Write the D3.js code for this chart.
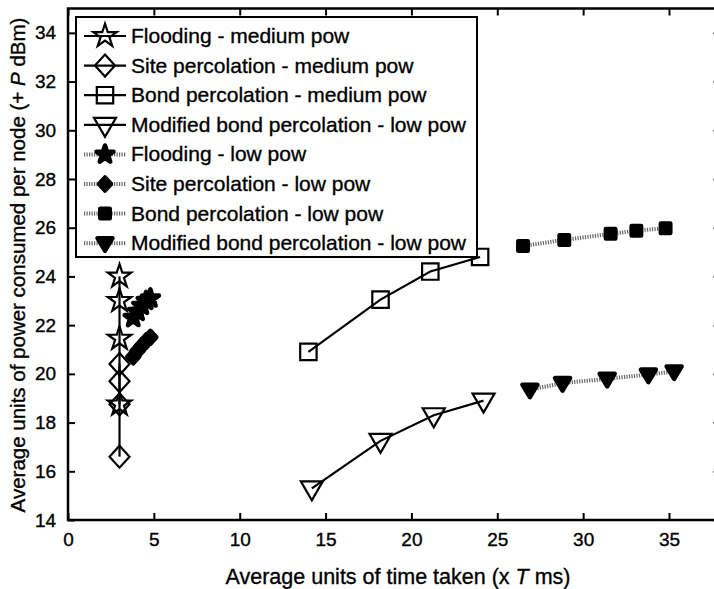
<!DOCTYPE html>
<html>
<head>
<meta charset="utf-8">
<script src="https://cdn.jsdelivr.net/npm/d3@7"></script>
<style>
  body { margin: 0; background: #fff; }
  svg { display: block; font-family: "Liberation Sans", Arial, sans-serif; }
  svg text { stroke: #000; stroke-width: 0.35px; }
</style>
</head>
<body>
<div id="chart"></div>
<script>
// data
const floodMedX = [3, 3, 3, 3];
const floodMedY = [24.0, 23.0, 21.45, 18.75];
const siteMedX = [3, 3, 3, 3];
const siteMedY = [20.4, 19.7, 18.75, 16.6];
const bondMedX = [14.0, 18.2, 21.1, 24.0];
const bondMedY = [20.9, 23.05, 24.2, 24.8];
const modMedX = [14.2, 18.2, 21.3, 24.2];
const modMedY = [15.3, 17.25, 18.3, 18.9];

const floodLowX = [3.8, 4.05, 4.3, 4.55, 4.8];
const floodLowY = [22.3, 22.55, 22.8, 23.0, 23.1];
const siteLowX = [3.8, 4.05, 4.3, 4.55, 4.8];
const siteLowY = [20.7, 20.95, 21.15, 21.35, 21.5];
const bondLowX = [26.5, 28.9, 31.6, 33.1, 34.8];
const bondLowY = [25.25, 25.5, 25.75, 25.88, 25.98];
const modLowX = [26.9, 28.8, 31.4, 33.8, 35.3];
const modLowY = [19.35, 19.62, 19.8, 19.97, 20.1];

const xTicks = [0, 5, 10, 15, 20, 25, 30, 35];
const yTicks = [14, 16, 18, 20, 22, 24, 26, 28, 30, 32, 34];

const legendLabels = [
  "Flooding - medium pow",
  "Site percolation - medium pow",
  "Bond percolation - medium pow",
  "Modified bond percolation - low pow",
  "Flooding - low pow",
  "Site percolation - low pow",
  "Bond percolation - low pow",
  "Modified bond percolation - low pow"
];

const width = 714, height = 589;
const svg = d3.select("#chart").append("svg")
  .attr("width", width)
  .attr("height", height);

const x = d3.scaleLinear().domain([0, 38]).range([68, 720.5]);
const y = d3.scaleLinear().domain([14, 35]).range([520, 8.5]);

// marker shapes
const shapes = {
  star: d3.symbol().type(d3.symbolStar).size(170),
  diamond: () => "M0,-11L10,0L0,11L-10,0Z",
  square: d3.symbol().type(d3.symbolSquare).size(270),
  tri: () => "M-11,-7L11,-7L0,12Z",
  starF: d3.symbol().type(d3.symbolStar).size(90),
  diamondF: () => "M0,-6.5L6,0L0,6.5L-6,0Z",
  squareF: d3.symbol().type(d3.symbolSquare).size(90),
  triF: () => "M-7.5,-5L7.5,-5L0,7.5Z"
};

const series = [
  {xs: floodMedX, ys: floodMedY, shape: "star", low: false},
  {xs: siteMedX, ys: siteMedY, shape: "diamond", low: false},
  {xs: bondMedX, ys: bondMedY, shape: "square", low: false},
  {xs: modMedX, ys: modMedY, shape: "tri", low: false},
  {xs: floodLowX, ys: floodLowY, shape: "starF", low: true},
  {xs: siteLowX, ys: siteLowY, shape: "diamondF", low: true},
  {xs: bondLowX, ys: bondLowY, shape: "squareF", low: true},
  {xs: modLowX, ys: modLowY, shape: "triF", low: true}
];

function styleLine(sel, low) {
  if (low) {
    sel.attr("stroke", "#666").attr("stroke-width", 4).attr("stroke-dasharray", "1.2,1.3");
  } else {
    sel.attr("stroke", "#000").attr("stroke-width", 2.2);
  }
  return sel.attr("fill", "none");
}
function styleMarker(sel, low) {
  if (low) {
    sel.attr("fill", "#000").attr("stroke", "#000").attr("stroke-width", 4.5).attr("stroke-linejoin", "round");
  } else {
    sel.attr("fill", "none").attr("stroke", "#000").attr("stroke-width", 2.2);
  }
  return sel;
}

// axes box
svg.append("rect")
  .attr("x", x(0)).attr("y", y(35))
  .attr("width", x(38) - x(0)).attr("height", y(14) - y(35))
  .attr("fill", "none").attr("stroke", "#000").attr("stroke-width", 2.5);

const xAxis = svg.append("g")
  .attr("transform", `translate(0,${y(14)})`)
  .call(d3.axisBottom(x).tickValues(xTicks).tickSizeInner(-7).tickSizeOuter(0).tickPadding(13));
const yAxis = svg.append("g")
  .attr("transform", `translate(${x(0)},0)`)
  .call(d3.axisLeft(y).tickValues(yTicks).tickSizeInner(-7).tickSizeOuter(0).tickPadding(10));
// top and right ticks
svg.append("g")
  .attr("transform", `translate(0,${y(35)})`)
  .call(d3.axisTop(x).tickValues(xTicks).tickSizeInner(-7).tickSizeOuter(0).tickFormat(""));
svg.append("g")
  .attr("transform", `translate(${x(38)},0)`)
  .call(d3.axisRight(y).tickValues(yTicks).tickSizeInner(-7).tickSizeOuter(0).tickFormat(""));

svg.selectAll(".domain").remove();
svg.selectAll(".tick line").attr("stroke", "#000").attr("stroke-width", 2);
xAxis.selectAll("text").attr("font-size", 19).attr("fill", "#000");
yAxis.selectAll("text").attr("font-size", 19).attr("fill", "#000").attr("dx", "-0.1em");

// axis titles
const xt = svg.append("text")
  .attr("x", 398).attr("y", 584)
  .attr("text-anchor", "middle").attr("font-size", 21.5).attr("fill", "#000");
xt.append("tspan").text("Average units of time taken (x ");
xt.append("tspan").attr("font-style", "italic").text("T");
xt.append("tspan").text(" ms)");

const yt = svg.append("text")
  .attr("transform", "translate(25,265) rotate(-90)")
  .attr("text-anchor", "middle").attr("font-size", 20.5).attr("fill", "#000");
yt.append("tspan").text("Average units of power consumed per node (+ ");
yt.append("tspan").attr("font-style", "italic").text("P");
yt.append("tspan").text(" dBm)");

// series
const line = d3.line().x(d => x(d[0])).y(d => y(d[1]));
const plot = svg.append("g");
series.forEach(s => {
  const pts = s.xs.map((v, i) => [v, s.ys[i]]);
  styleLine(plot.append("path").attr("d", line(pts)), s.low);
});
series.forEach(s => {
  const pts = s.xs.map((v, i) => [v, s.ys[i]]);
  styleMarker(plot.append("g").selectAll("path")
    .data(pts).join("path")
    .attr("transform", d => `translate(${x(d[0])},${y(d[1])})`)
    .attr("d", shapes[s.shape]()), s.low);
});

// legend
const lg = svg.append("g");
lg.append("rect")
  .attr("x", 76).attr("y", 17).attr("width", 401).attr("height", 240)
  .attr("fill", "#fff").attr("stroke", "#000").attr("stroke-width", 2);
legendLabels.forEach((lab, i) => {
  const ry = 36 + i * 29.6;
  const s = series[i];
  styleLine(lg.append("line").attr("x1", 84).attr("x2", 126).attr("y1", ry).attr("y2", ry), s.low);
  styleMarker(lg.append("path").attr("transform", `translate(105,${ry})`).attr("d", shapes[s.shape]()), s.low);
  lg.append("text").attr("x", 131).attr("y", ry + 7)
    .attr("font-size", 21).attr("fill", "#000").text(lab);
});
</script>
</body>
</html>
